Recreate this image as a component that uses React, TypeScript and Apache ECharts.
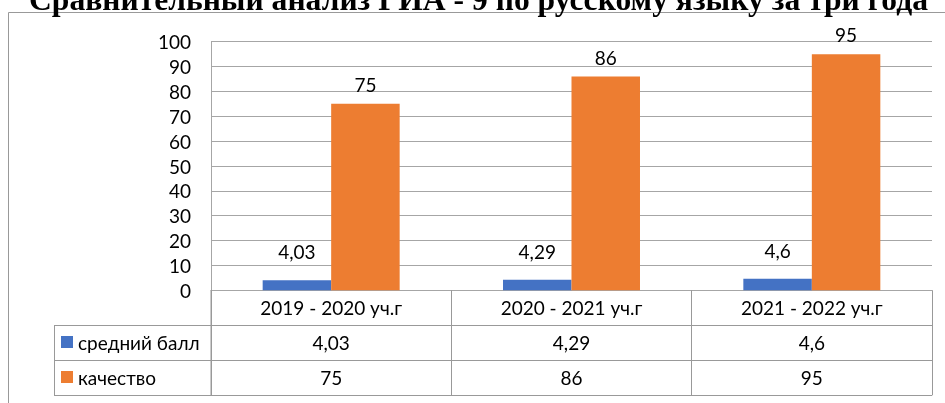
import React, { useEffect, useRef } from 'react';
import * as echarts from 'echarts';

const titleText = 'Сравнительный анализ ГИА - 9 по русскому языку за три года';
const categories = ['2019 - 2020 уч.г', '2020 - 2021 уч.г', '2021 - 2022 уч.г'];
const seriesNames = ['средний балл', 'качество'];
const avgScore = [4.03, 4.29, 4.6];
const quality = [75, 86, 95];
const yMin = 0;
const yMax = 100;
const yStep = 10;

const fmt = (v: number) => String(v).replace('.', ',');

const FONT = 'Lato';
const FS = 19;
const GRID_C = '#a6a6a6';
const TABLE_C = '#999999';

export default function App() {
  const ref = useRef<HTMLDivElement>(null);
  useEffect(() => {
    document.body.style.margin = '0';
    const chart = echarts.init(ref.current!, undefined, { renderer: 'svg' });
    const hiddenAxis = {
      type: 'category' as const,
      gridIndex: 0,
      position: 'bottom' as const,
      axisLine: { show: false },
      axisTick: { show: false },
      splitLine: { show: false },
    };
    const labelStyle = { fontFamily: FONT, fontSize: FS, color: '#000' };
    chart.setOption({
      animation: false,
      title: {
        text: titleText,
        left: 29,
        top: -17,
        padding: 0,
        textStyle: { fontFamily: 'Liberation Serif', fontWeight: 'bold', fontSize: 31.6, color: '#000' },
      },
      legend: {
        orient: 'vertical',
        left: 61,
        top: 332,
        itemWidth: 12,
        itemHeight: 12,
        itemGap: 15,
        icon: 'rect',
        selectedMode: false,
        padding: 0,
        textStyle: { fontFamily: FONT, fontSize: FS, color: '#000', lineHeight: 20 },
        data: seriesNames,
      },
      grid: { left: 211, right: 13, top: 41.7, bottom: 112.7 },
      xAxis: [
        {
          type: 'category',
          data: categories,
          axisLine: { show: true, lineStyle: { color: GRID_C } },
          axisTick: { show: true, length: 105, lineStyle: { color: TABLE_C } },
          axisLabel: { ...labelStyle, margin: 8 },
        },
        { ...hiddenAxis, data: avgScore.map(fmt), offset: 43, axisLabel: { ...labelStyle, margin: 0 } },
        { ...hiddenAxis, data: quality.map(fmt), offset: 77.5, axisLabel: { ...labelStyle, margin: 0 } },
      ],
      yAxis: {
        type: 'value',
        min: yMin,
        max: yMax,
        interval: yStep,
        axisLine: { show: true, lineStyle: { color: GRID_C } },
        axisTick: { show: false },
        splitLine: { lineStyle: { color: GRID_C } },
        axisLabel: { ...labelStyle, margin: 20 },
      },
      series: [
        {
          name: seriesNames[0],
          type: 'bar',
          data: avgScore,
          barWidth: '28.5%',
          barGap: '0%',
          itemStyle: { color: '#4472C4' },
          label: { show: true, position: 'top', distance: 19, formatter: (p: any) => fmt(p.value), ...labelStyle },
        },
        {
          name: seriesNames[1],
          type: 'bar',
          data: quality,
          barWidth: '28.5%',
          barGap: '0%',
          itemStyle: { color: '#ED7D31' },
          label: { show: true, position: 'top', distance: 10, formatter: (p: any) => fmt(p.value), ...labelStyle },
        },
      ],
    });

    // Table lines derived from the axis scales
    const c0 = chart.convertToPixel({ xAxisIndex: 0 }, categories[0]) as number;
    const c1 = chart.convertToPixel({ xAxisIndex: 0 }, categories[1]) as number;
    const cl = chart.convertToPixel({ xAxisIndex: 0 }, categories[categories.length - 1]) as number;
    const band = c1 - c0;
    const rightX = cl + band / 2;
    const leftX = c0 - band / 2;
    const yZero = chart.convertToPixel({ yAxisIndex: 0 }, yMin) as number;
    const rowH = 35;
    const legendLeft = 54;
    const lines: any[] = [];
    for (let r = 1; r <= 3; r++) {
      const y = Math.round(yZero + rowH * r) + 0.5;
      lines.push({
        type: 'line',
        shape: { x1: legendLeft, y1: y, x2: rightX, y2: y },
        style: { stroke: TABLE_C, lineWidth: 1 },
      });
    }
    lines.push({
      type: 'line',
      shape: { x1: legendLeft + 0.5, y1: yZero + rowH, x2: legendLeft + 0.5, y2: yZero + rowH * 3 },
      style: { stroke: TABLE_C, lineWidth: 1 },
    });
    lines.push({
      type: 'line',
      shape: { x1: leftX, y1: yZero, x2: leftX, y2: yZero + rowH * 3 },
      style: { stroke: TABLE_C, lineWidth: 1 },
    });
    chart.setOption({
      graphic: [
        {
          type: 'rect',
          shape: { x: 8.5, y: 12.5, width: 1000, height: 1000 },
          style: { fill: 'none', stroke: '#999999', lineWidth: 1 },
          z: -1,
        },
        ...lines,
      ],
    });
    return () => chart.dispose();
  }, []);
  return <div ref={ref} style={{ position: 'fixed', left: 0, top: 0, width: 945, height: 403 }} />;
}
